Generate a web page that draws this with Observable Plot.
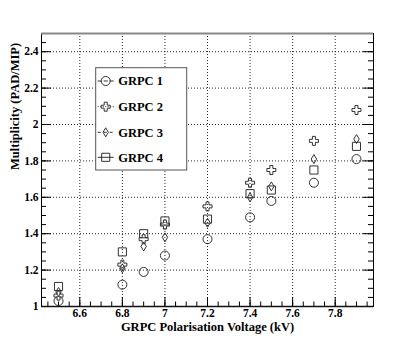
<!DOCTYPE html>
<html><head><meta charset="utf-8">
<script src="https://cdn.jsdelivr.net/npm/d3@7"></script>
<script src="https://cdn.jsdelivr.net/npm/@observablehq/plot@0.6"></script>
<style>body{margin:0;background:#fff}#chart{width:415px;height:341px}</style>
</head><body><div id="chart"></div>
<script>
const voltages = [6.5, 6.8, 6.9, 7.0, 7.2, 7.4, 7.5, 7.7, 7.9];
const grpc1 = [1.03, 1.12, 1.19, 1.28, 1.37, 1.49, 1.58, 1.68, 1.81];
const grpc2 = [1.06, 1.23, 1.37, 1.45, 1.55, 1.68, 1.75, 1.91, 2.08];
const grpc3 = [1.08, 1.21, 1.33, 1.38, 1.46, 1.60, 1.66, 1.81, 1.92];
const grpc4 = [1.11, 1.30, 1.40, 1.47, 1.48, 1.62, 1.64, 1.75, 1.88];
const seriesNames = ["GRPC 1", "GRPC 2", "GRPC 3", "GRPC 4"];
const xTicks = [6.6, 6.8, 7.0, 7.2, 7.4, 7.6, 7.8];
const xTickLabels = ["6.6", "6.8", "7", "7.2", "7.4", "7.6", "7.8"];
const yTicks = [1, 1.2, 1.4, 1.6, 1.8, 2.0, 2.2, 2.4];
const yTickLabels = ["1", "1.2", "1.4", "1.6", "1.8", "2", "2.2", "2.4"];
const xDomain = [6.42, 7.98];
const yDomain = [1, 2.5];
const xLabel = "GRPC Polarisation Voltage (kV)";
const yLabel = "Multiplicity (PAD/MIP)";

const xMinor = d3.range(129, 160).map(k => +(k * 0.05).toFixed(2));
const yMinor = d3.range(21, 50).map(k => +(k * 0.05).toFixed(2));

const W = 415, H = 341, mL = 41, mR = 42, mT = 33, mB = 35;
const fW = W - mL - mR, fH = H - mT - mB;
const ink = "#333";

const symCircle = {draw(c, s){ const r = Math.sqrt(s/Math.PI); c.moveTo(r,0); c.arc(0,0,r,0,2*Math.PI); c.closePath(); }};
const symCross = {draw(c, s){ const r = Math.sqrt(s/Math.PI); const a=r, t=r/3;
  c.moveTo(-t,-a); c.lineTo(t,-a); c.lineTo(t,-t); c.lineTo(a,-t); c.lineTo(a,t); c.lineTo(t,t);
  c.lineTo(t,a); c.lineTo(-t,a); c.lineTo(-t,t); c.lineTo(-a,t); c.lineTo(-a,-t); c.lineTo(-t,-t); c.closePath(); }};
const symDiamond = {draw(c, s){ const r = Math.sqrt(s/Math.PI); const w=0.6*r, h=r;
  c.moveTo(0,-h); c.lineTo(w,0); c.lineTo(0,h); c.lineTo(-w,0); c.closePath(); }};
const symSquare = {draw(c, s){ const r = Math.sqrt(s/Math.PI); const h=0.9*r;
  c.moveTo(-h,-h); c.lineTo(h,-h); c.lineTo(h,h); c.lineTo(-h,h); c.closePath(); }};
const symbols = [symCircle, symCross, symDiamond, symSquare];
const dashes = ["4,2", "1,1.5", "3,3", null];

const series = [grpc1, grpc2, grpc3, grpc4];
const rows = [];
series.forEach((arr, k) => arr.forEach((m, i) => rows.push({v: voltages[i], m, s: seriesNames[k]})));

const font = "'Liberation Serif', 'Times New Roman', serif";

const chart = Plot.plot({
  width: W, height: H,
  marginLeft: mL, marginRight: mR, marginTop: mT, marginBottom: mB,
  style: {fontFamily: font, fontWeight: "bold", fontSize: "12px", background: "#fff", color: "#000"},
  x: {domain: xDomain},
  y: {domain: yDomain},
  marks: [
    Plot.ruleX(xTicks, {x: d => d, stroke: "#000", strokeDasharray: "1,2", strokeOpacity: 0.85}),
    Plot.ruleY(yTicks.slice(1), {y: d => d, stroke: "#000", strokeDasharray: "1,2", strokeOpacity: 0.85}),
    Plot.tickX(xTicks, {x: d => d, insetTop: fH - 9, stroke: "#000"}),
    Plot.tickX(xMinor, {x: d => d, insetTop: fH - 4.5, stroke: "#000"}),
    Plot.tickY(yTicks, {y: d => d, insetRight: fW - 10, stroke: "#000"}),
    Plot.tickY(yMinor, {y: d => d, insetRight: fW - 5, stroke: "#000"}),
    Plot.tickY(yTicks, {y: d => d, insetLeft: fW - 10, stroke: "#000"}),
    Plot.tickY(yMinor, {y: d => d, insetLeft: fW - 5, stroke: "#000"}),
    Plot.axisX(xTicks, {tickSize: 0, tickPadding: 2, tickFormat: d => xTickLabels[xTicks.indexOf(d)], label: null, fontSize: 11.5, fontWeight: "bold"}),
    Plot.axisY(yTicks, {tickSize: 0, tickPadding: 3, tickFormat: d => yTickLabels[yTicks.indexOf(d)], label: null, fontSize: 11.5, fontWeight: "bold"}),
    Plot.frame({stroke: "#000"}),
    Plot.ruleY([yDomain[1]], {stroke: "#888", strokeWidth: 2}),
    Plot.ruleY([yDomain[0]], {stroke: "#111", strokeWidth: 1.6}),
    ...seriesNames.map((name, k) => Plot.dot(rows.filter(r => r.s === name), {
      x: "v", y: "m", r: 4.5, symbol: symbols[k], stroke: ink, strokeWidth: 1, fill: "none"
    })),
    Plot.text([xLabel], {text: d => d, frameAnchor: "bottom", dy: 24.5, fontSize: 12.5, fontWeight: "bold"}),
    Plot.text([yLabel], {text: d => d, frameAnchor: "left", rotate: -90, dx: -27, fontSize: 12.5, fontWeight: "bold"})
  ]
});

// legend
const svg = d3.select(chart);
const lg = svg.append("g");
const bx = 95.7, by = 67.7, bw = 91, bh = 102.3;
lg.append("rect").attr("x", bx).attr("y", by).attr("width", bw).attr("height", bh)
  .attr("fill", "#fff").attr("stroke", "#555").attr("stroke-width", 1);
const entryY = [81, 106.7, 132.3, 157.3];
seriesNames.forEach((name, k) => {
  const y = entryY[k];
  lg.append("line").attr("x1", bx + 2).attr("x2", bx + 18).attr("y1", y).attr("y2", y)
    .attr("stroke", ink).attr("stroke-width", 1).attr("stroke-dasharray", dashes[k]);
  const p = d3.path();
  symbols[k].draw(p, 4.5 * 4.5 * Math.PI);
  lg.append("path").attr("d", p.toString()).attr("transform", `translate(${bx + 10},${y})`)
    .attr("fill", "none").attr("stroke", ink).attr("stroke-width", 1);
  lg.append("text").attr("x", bx + 22.5).attr("y", y).attr("dy", "0.35em")
    .attr("text-anchor", "start")
    .attr("font-family", font).attr("font-weight", "bold").attr("font-size", 12.5).attr("fill", "#000").text(name);
});

document.getElementById("chart").appendChild(chart);
</script>
</body></html>
